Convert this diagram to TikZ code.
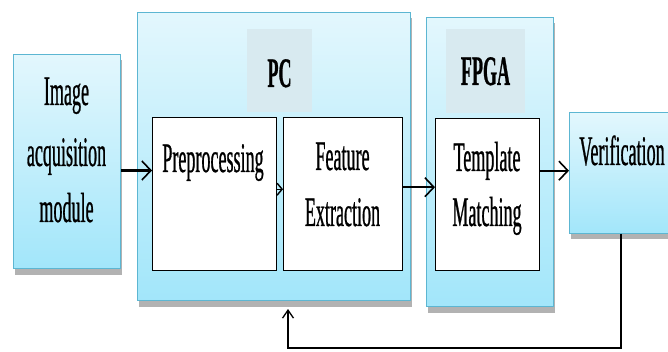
\documentclass[tikz,border=0pt]{standalone}
\usepackage{fontspec}
\setmainfont{Liberation Serif}[FakeStretch=0.43,FakeBold=0.6]
\usetikzlibrary{arrows.meta,shadows,calc}

\definecolor{boxtop}{HTML}{E3F7FD}
\definecolor{boxbot}{HTML}{A2E6FA}
\definecolor{boxedge}{HTML}{5CB6D2}
\definecolor{labfill}{HTML}{D8EAF0}

\tikzset{
  bluebox/.style={draw=boxedge,line width=1pt,top color=boxtop,bottom color=boxbot,
    drop shadow={shadow xshift=1pt,shadow yshift=-6pt,opacity=0.3,fill=black},
    anchor=north west,inner sep=0pt},
  whitebox/.style={draw=black,line width=1.4pt,fill=white,anchor=north west,inner sep=0pt},
  labbox/.style={fill=labfill,anchor=north west,inner sep=0pt},
  txt/.style={font=\fontsize{42}{58}\selectfont,align=center,inner sep=0pt},
  arr/.style={line width=2.2pt,-{Straight Barb[length=9pt,width=19pt,line width=1.6pt]}},
}

\begin{document}
\begin{tikzpicture}[x=1pt,y=-1pt]
\useasboundingbox (0,0) rectangle (668,352);
\clip (0,0) rectangle (668,352);

% blue blocks
\node[bluebox,minimum width=107,minimum height=214] (img) at (13,54) {};
\node[bluebox,minimum width=273,minimum height=288] (pc) at (137,12) {};
\node[bluebox,minimum width=127,minimum height=289] (fpga) at (426,17) {};
\node[bluebox,minimum width=106,minimum height=121] (ver) at (569,112) {};

% label backgrounds
\node[labbox,minimum width=65,minimum height=83] (pclab) at (247,29) {};
\node[labbox,minimum width=79,minimum height=84] (fpgalab) at (446,29) {};

% white blocks
\node[whitebox,minimum width=124,minimum height=153] (pre) at (152,117) {};
\node[whitebox,minimum width=119,minimum height=153] (fea) at (283,117) {};
\node[whitebox,minimum width=104,minimum height=152] (tem) at (435,118) {};

% texts
\node[txt,anchor=base] (t1) at (66.5,105) {Image};
\node[txt,anchor=base] (t2) at (66.5,166) {acquisition};
\node[txt,anchor=base] (t3) at (66.5,222) {module};
\node[txt,anchor=base,font=\fontsize{42}{58}\selectfont\bfseries] (t4) at (279.5,87) {PC};
\node[txt,anchor=base,font=\fontsize{42}{58}\selectfont\bfseries] (t5) at (485.5,85) {FPGA};
\node[txt,anchor=base] (t6) at (213,172) {Preprocessing};
\node[txt,anchor=base] (t7) at (342.5,170) {Feature};
\node[txt,anchor=base] (t8) at (342.5,226) {Extraction};
\node[txt,anchor=base] (t9) at (487,171) {Template};
\node[txt,anchor=base] (t10) at (487,226) {Matching};
\node[txt,anchor=base] (t11) at (622,165) {Verification};

% arrows
\draw[arr] ([yshift=-9pt]img.east) -- ([yshift=-9pt]img.east -| pre.west);
\draw[arr,line width=1pt,-{Straight Barb[length=5pt,width=12pt,line width=1.4pt]}]
  ([yshift=5pt]pre.east) -- ([yshift=5pt]pre.east -| fea.west);
\draw[arr] ([yshift=7pt]fea.east) -- ([yshift=7pt]fea.east -| tem.west);
\draw[arr] ([yshift=24pt]tem.east) -- ([yshift=24pt]tem.east -| ver.west);

% feedback
\coordinate (fb) at (288,348);
\draw[line width=1.6pt,-{Straight Barb[length=8pt,width=11pt,line width=1.3pt]}]
  ([xshift=-1.5pt]ver.south) |- (fb) -- ([yshift=-8pt]pc.south -| fb);
\end{tikzpicture}
\end{document}
